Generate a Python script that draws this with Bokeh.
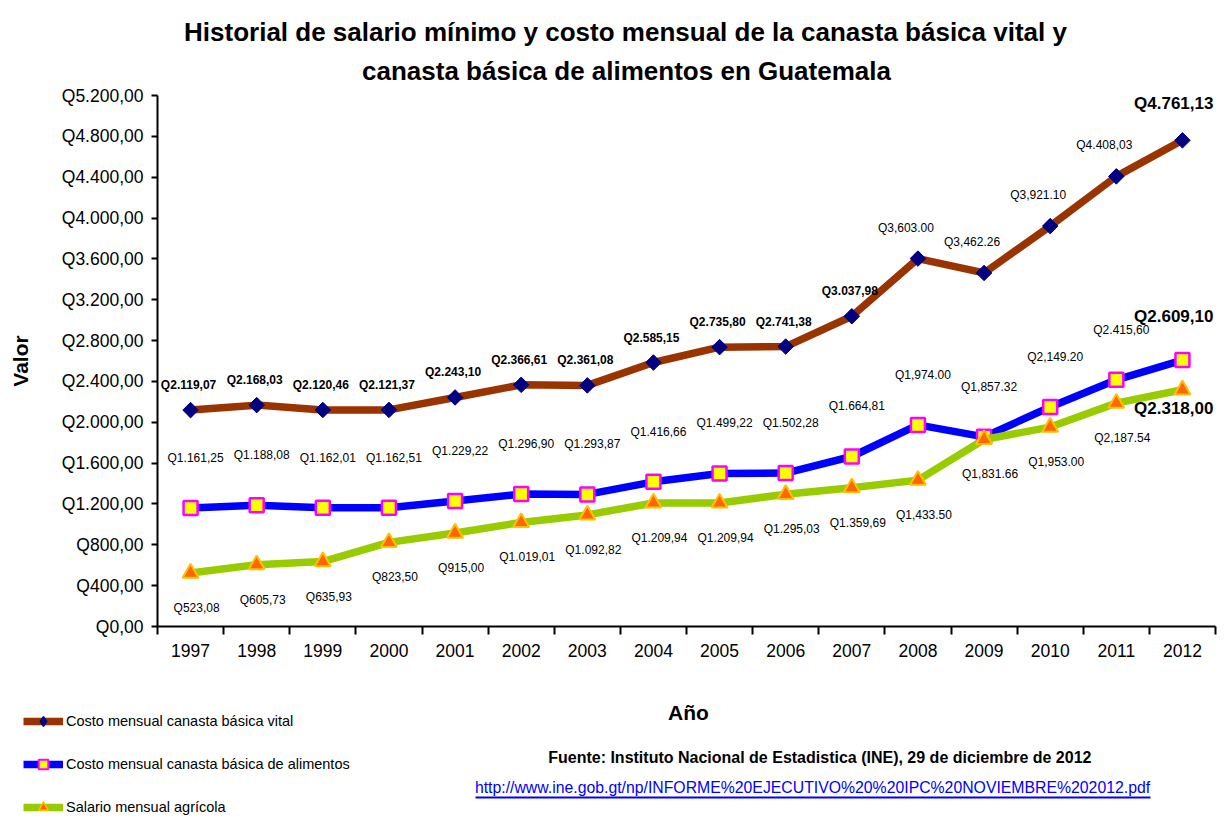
import numpy as np
from bokeh.plotting import figure
from bokeh.layouts import column, row
from bokeh.models import (Range1d, FixedTicker, Legend, LegendItem, Label, BoxAnnotation)
from bokeh.embed import file_html
from bokeh.resources import INLINE
from bokeh.core.properties import value

# ---------------- data ----------------
years = [1997, 1998, 1999, 2000, 2001, 2002, 2003, 2004,
         2005, 2006, 2007, 2008, 2009, 2010, 2011, 2012]

vital = [2119.07, 2168.03, 2120.46, 2121.37, 2243.10, 2366.61, 2361.08, 2585.15,
         2735.80, 2741.38, 3037.98, 3603.00, 3462.26, 3921.10, 4408.03, 4761.13]
alimentos = [1161.25, 1188.08, 1162.01, 1162.51, 1229.22, 1296.90, 1293.87, 1416.66,
             1499.22, 1502.28, 1664.81, 1974.00, 1857.32, 2149.20, 2415.60, 2609.10]
salario = [523.08, 605.73, 635.93, 823.50, 915.00, 1019.01, 1092.82, 1209.94,
           1209.94, 1295.03, 1359.69, 1433.50, 1831.66, 1953.00, 2187.54, 2318.00]

vital_labels = ["Q2.119,07", "Q2.168,03", "Q2.120,46", "Q2.121,37", "Q2.243,10", "Q2.366,61",
                "Q2.361,08", "Q2.585,15", "Q2.735,80", "Q2.741,38", "Q3.037,98", "Q3,603.00",
                "Q3,462.26", "Q3,921.10", "Q4.408,03", "Q4.761,13"]
alimentos_labels = ["Q1.161,25", "Q1.188,08", "Q1.162,01", "Q1.162,51", "Q1.229,22", "Q1.296,90",
                    "Q1.293,87", "Q1.416,66", "Q1.499,22", "Q1.502,28", "Q1.664,81", "Q1,974.00",
                    "Q1,857.32", "Q2,149.20", "Q2.415,60", "Q2.609,10"]
salario_labels = ["Q523,08", "Q605,73", "Q635,93", "Q823,50", "Q915,00", "Q1.019,01",
                  "Q1.092,82", "Q1.209,94", "Q1.209,94", "Q1.295,03", "Q1.359,69", "Q1,433.50",
                  "Q1,831.66", "Q1,953.00", "Q2,187.54", "Q2.318,00"]

y_ticks = [0, 400, 800, 1200, 1600, 2000, 2400, 2800, 3200, 3600, 4000, 4400, 4800, 5200]
y_tick_labels = ["Q0,00", "Q400,00", "Q800,00", "Q1.200,00", "Q1.600,00", "Q2.000,00",
                 "Q2.400,00", "Q2.800,00", "Q3.200,00", "Q3.600,00", "Q4.000,00",
                 "Q4.400,00", "Q4.800,00", "Q5.200,00"]

series_names = ["Costo mensual canasta básica vital",
                "Costo mensual canasta básica de alimentos",
                "Salario mensual agrícola"]

title_lines = ["Historial de salario mínimo y costo mensual de la canasta básica vital y",
               "canasta básica de alimentos en Guatemala"]
x_title = "Año"
y_title = "Valor"
source_text = "Fuente:  Instituto Nacional de Estadistica (INE),   29 de diciembre de 2012"
source_url = "http://www.ine.gob.gt/np/INFORME%20EJECUTIVO%20%20IPC%20NOVIEMBRE%202012.pdf"

# ---------------- styles ----------------
SANS = "Liberation Sans"
BROWN, NAVY = "#993300", "#000080"
BLUE, YELLOW, MAGENTA = "#0000FF", "#FFFF00", "#FF00FF"
GREEN, ORANGE, GOLD = "#99CC00", "#FF6600", "#FFC000"
W = 1225
TOP_H, MAIN_H, BOT_H = 85, 615, 119
FL, FR = 157, 1215          # frame left / right (page px)


def strip(height, y0, left, right):
    f = figure(width=W, height=height, output_backend="svg", toolbar_location=None,
               x_range=Range1d(left, right), y_range=Range1d(y0 + height, y0),
               x_axis_location=None, y_axis_location=None,
               min_border_left=left, min_border_right=W - right,
               min_border_top=0, min_border_bottom=0)
    f.xgrid.visible = False
    f.ygrid.visible = False
    f.outline_line_color = None
    return f


# ---------------- title strip ----------------
pt = strip(TOP_H, 0, FL, FR)
tstyle = dict(text_align="center", text_baseline="middle", text_font=SANS,
              text_font_size="26px", text_font_style="bold", text_color="black")
pt.add_layout(Label(x=625, y=31, text=title_lines[0], **tstyle))
pt.add_layout(Label(x=626, y=70, text=title_lines[1], **tstyle))

# ---------------- main chart ----------------
p = figure(width=W, height=MAIN_H, output_backend="svg", toolbar_location=None,
           x_range=Range1d(years[0] - 0.5, years[-1] + 0.5),
           y_range=Range1d(y_ticks[0], y_ticks[-1]),
           min_border_left=FL, min_border_right=W - FR, min_border_top=10, min_border_bottom=74)
p.xgrid.visible = False
p.ygrid.visible = False
p.outline_line_color = None

xa = p.xaxis[0]
xa.ticker = FixedTicker(ticks=years, minor_ticks=[y - 0.5 for y in years] + [years[-1] + 0.5])
xa.major_tick_line_color = None
xa.major_tick_out = 8
xa.major_tick_in = 0
xa.minor_tick_in = 0
xa.minor_tick_out = 8
xa.minor_tick_line_width = 2
xa.minor_tick_line_color = "black"
xa.axis_line_width = 2
xa.axis_line_color = "black"
xa.major_label_standoff = 9
xa.major_label_text_font = SANS
xa.major_label_text_font_size = "17.5px"
xa.major_label_text_color = "black"

ya = p.yaxis[0]
ya.ticker = FixedTicker(ticks=y_ticks)
ya.major_label_overrides = {t: l for t, l in zip(y_ticks, y_tick_labels)}
ya.major_tick_in = 0
ya.major_tick_out = 6
ya.major_tick_line_width = 2
ya.minor_tick_line_color = None
ya.axis_line_width = 2
ya.axis_line_color = "black"
ya.major_label_standoff = 8
ya.major_label_text_font = SANS
ya.major_label_text_font_size = "17.5px"
ya.major_label_text_color = "black"
ya.axis_label = y_title
ya.axis_label_text_font = SANS
ya.axis_label_text_font_style = "bold"
ya.axis_label_text_font_size = "21px"
ya.axis_label_text_color = "black"
ya.axis_label_standoff = 27

p.line(years, vital, line_color=BROWN, line_width=7.5)
p.scatter(years, vital, marker="square", angle=np.pi / 4, size=11,
          fill_color=NAVY, line_color=NAVY)
p.line(years, alimentos, line_color=BLUE, line_width=7.5)
p.scatter(years, alimentos, marker="square", size=14,
          fill_color=YELLOW, line_color=MAGENTA, line_width=2.5)
p.line(years, salario, line_color=GREEN, line_width=7.5)
p.scatter(years, salario, marker="triangle", size=16,
          fill_color=ORANGE, line_color=GOLD, line_width=2)

lbl = dict(text_font=value(SANS), text_font_size="12px", text_color="black",
           text_align="center", text_baseline="middle")
nb = 11  # vital labels up to 2007 are bold
p.text(years[:nb], vital[:nb], text=vital_labels[:nb], text_font_style="bold",
       x_offset=-2, y_offset=-25, **lbl)
p.text(years[nb:-1], vital[nb:-1], text=vital_labels[nb:-1],
       x_offset=-12, y_offset=-31, **lbl)
p.text(years[:-1], alimentos[:-1], text=alimentos_labels[:-1],
       x_offset=5, y_offset=-50, **lbl)
p.text(years[:-1], salario[:-1], text=salario_labels[:-1],
       x_offset=6, y_offset=35, **lbl)

big = dict(text_font=value(SANS), text_font_size="17px", text_font_style="bold",
           text_color="black", text_align="right", text_baseline="middle")
p.text(years[-1:], vital[-1:], text=vital_labels[-1:], x_offset=31, y_offset=-37, **big)
p.text(years[-1:], alimentos[-1:], text=alimentos_labels[-1:], x_offset=31, y_offset=-44, **big)
p.text(years[-1:], salario[-1:], text=salario_labels[-1:], x_offset=31, y_offset=19, **big)

# ---------------- bottom strip: axis title, legend, source ----------------
pb = strip(BOT_H, TOP_H + MAIN_H, 0, W)
pb.add_layout(Label(x=688, y=712, text=x_title, text_align="center", text_baseline="middle",
                    text_font=SANS, text_font_size="21px", text_font_style="bold",
                    text_color="black"))

# legend proxies: same series, they fall outside this strip's visible area
g1 = pb.line(years, vital, line_color=BROWN, line_width=7.5)
s1 = pb.scatter(years, vital, marker="diamond", fill_color=NAVY, line_color=NAVY,
                line_width=1.5)
g2 = pb.line(years, alimentos, line_color=BLUE, line_width=7.5)
s2 = pb.scatter(years, alimentos, marker="square", fill_color=YELLOW, line_color=MAGENTA,
                line_width=2)
g3 = pb.line(years, salario, line_color=GREEN, line_width=7.5)
s3 = pb.scatter(years, salario, marker="triangle", fill_color=ORANGE, line_color=GOLD,
                line_width=1.5)

legend = Legend(items=[LegendItem(label=series_names[0], renderers=[g1, s1]),
                       LegendItem(label=series_names[1], renderers=[g2, s2]),
                       LegendItem(label=series_names[2], renderers=[g3, s3])],
                location=(23, 0), orientation="vertical",
                glyph_width=40, glyph_height=24, spacing=19, label_standoff=3,
                padding=0, margin=0, border_line_color=None, background_fill_alpha=0,
                label_text_font=SANS, label_text_font_size="14.5px",
                label_text_color="black", label_height=20)
pb.add_layout(legend, "center")

pb.add_layout(Label(x=826, y=757, text=source_text, text_align="center",
                    text_baseline="middle", text_font=SANS, text_font_size="16px",
                    text_font_style="bold", text_color="black"))
pb.add_layout(Label(x=812, y=787, text=source_url, text_align="center",
                    text_baseline="middle", text_font=SANS, text_font_size="15.8px",
                    text_color="#0000FF"))
pb.add_layout(BoxAnnotation(left=475, right=1150, top=796, bottom=798,
                            fill_color="#0000FF", fill_alpha=1, line_color=None))

layout = column(pt, p, row(pb), spacing=0)
open("out.html", "w").write(file_html(layout, INLINE))
